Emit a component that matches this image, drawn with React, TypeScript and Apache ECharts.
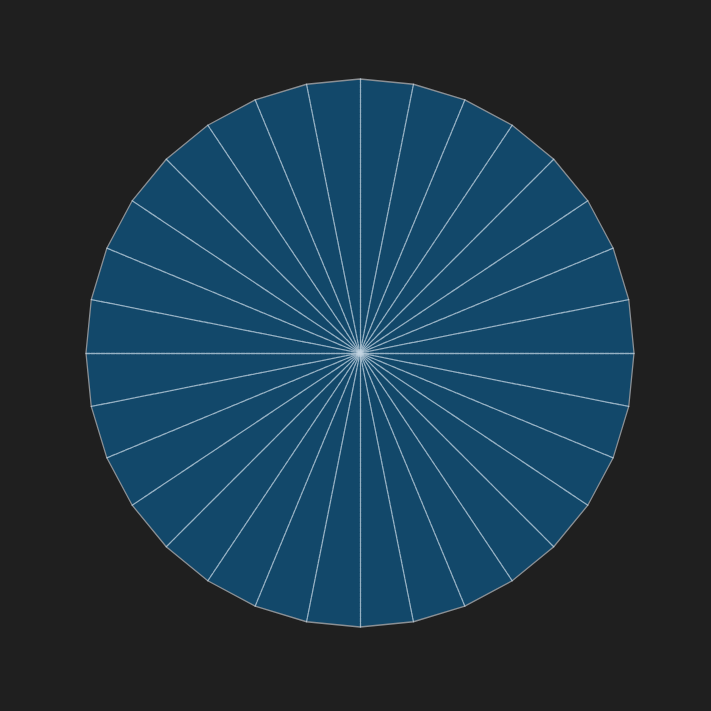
import { useEffect, useRef } from 'react';
import * as echarts from 'echarts';

// 32 spokes, every indicator at its max so the polygon fills the whole radar
const indicatorNames: string[] = Array.from({ length: 32 }, () => '');
const indicatorMax: number[] = Array.from({ length: 32 }, () => 100);

const App = () => {
    const chartRef = useRef<HTMLDivElement | null>(null);

    useEffect(() => {
        if (!chartRef.current) return;
        const myChart = echarts.init(chartRef.current, undefined, { renderer: 'svg' });

        const option = {
            animation: false,
            backgroundColor: '#1f1f1f',
            radar: {
                center: [360, 353],
                radius: 274,
                startAngle: 90,
                splitNumber: 1,
                indicator: indicatorNames.map((name, i) => ({ name, max: indicatorMax[i] })),
                axisName: { show: false },
                axisLine: { lineStyle: { color: 'rgba(195, 212, 225, 0.75)', width: 1.3, type: [4, 1] } },
                splitLine: { lineStyle: { color: '#8a8f94', width: 1.3 } },
                splitArea: { areaStyle: { color: ['#12486a'] } },
            },
            series: [],
        };

        myChart.setOption(option);

        return () => {
            myChart.dispose();
        };
    }, []);

    return (
        <div
            ref={chartRef}
            style={{ position: 'absolute', left: 0, top: 0, width: '711px', height: '711px' }}
        />
    );
};

export default App;
